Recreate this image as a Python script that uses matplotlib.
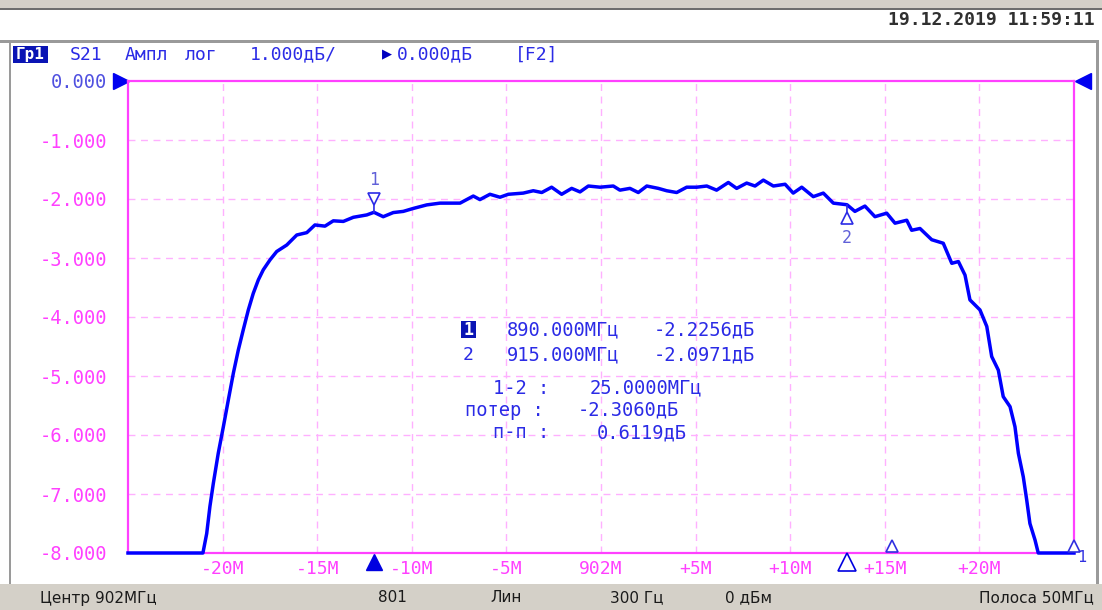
import matplotlib
matplotlib.use("Agg")
import matplotlib.pyplot as plt
import matplotlib.transforms as mtransforms
from matplotlib.patches import Rectangle

# ---------------- data ----------------
center_MHz = 902.0
span_MHz = 50.0
freq_MHz = [877.0, 880.96, 881.16, 881.33, 881.51, 881.77, 882.04, 882.30, 882.57,
            882.83, 883.09, 883.36, 883.62, 883.89, 884.15, 884.51, 884.86, 885.39,
            885.92, 886.45, 886.88, 887.41, 887.85, 888.38, 888.91, 889.62, 890.0,
            890.49, 891.02, 891.55, 892.08, 892.79, 893.49, 894.55, 895.25, 895.60,
            896.13, 896.66, 897.10, 897.89, 898.42, 898.87, 899.39, 899.92, 900.45,
            900.89, 901.33, 901.95, 902.65, 903.00, 903.53, 903.97, 904.42, 905.03,
            905.47, 906.00, 906.53, 907.06, 907.59, 908.11, 908.73, 909.17, 909.70,
            910.14, 910.58, 911.11, 911.73, 912.16, 912.61, 913.22, 913.75, 914.28,
            915.0, 915.42, 915.95, 916.48, 917.10, 917.54, 918.16, 918.42, 918.86,
            919.48, 920.09, 920.54, 920.89, 921.24, 921.50, 922.03, 922.39, 922.65,
            923.00, 923.26, 923.62, 923.88, 924.06, 924.32, 924.50, 924.67, 924.94,
            925.11, 927.0]
s21_dB = [-8.0, -8.0, -7.67, -7.21, -6.82, -6.31, -5.86, -5.41, -4.95,
          -4.56, -4.22, -3.88, -3.60, -3.37, -3.20, -3.03, -2.89, -2.78,
          -2.61, -2.57, -2.44, -2.46, -2.37, -2.38, -2.31, -2.27, -2.2256,
          -2.30, -2.23, -2.21, -2.16, -2.10, -2.07, -2.07, -1.95, -2.01,
          -1.92, -1.97, -1.92, -1.90, -1.86, -1.89, -1.80, -1.92, -1.82,
          -1.88, -1.78, -1.80, -1.78, -1.85, -1.82, -1.89, -1.78, -1.82,
          -1.86, -1.89, -1.80, -1.80, -1.78, -1.85, -1.72, -1.82, -1.73,
          -1.78, -1.68, -1.78, -1.75, -1.90, -1.80, -1.96, -1.90, -2.07,
          -2.0971, -2.21, -2.12, -2.30, -2.24, -2.41, -2.36, -2.53, -2.50,
          -2.69, -2.75, -3.09, -3.06, -3.29, -3.71, -3.88, -4.16, -4.67,
          -4.90, -5.35, -5.52, -5.86, -6.31, -6.71, -7.10, -7.50, -7.78,
          -8.0, -8.0]

marker_freqs = [890.0, 915.0]
marker_vals = [-2.2256, -2.0971]
delta_MHz = 25.0
loss_dB = -2.3060
pp_dB = 0.6119
other_markers_MHz = [917.4, 927.0]

ref_level = 0.0
y_ticks = [0, -1, -2, -3, -4, -5, -6, -7, -8]
y_labels = ["0.000", "-1.000", "-2.000", "-3.000", "-4.000", "-5.000",
            "-6.000", "-7.000", "-8.000"]
x_ticks = [882, 887, 892, 897, 902, 907, 912, 917, 922]
x_labels = ["-20M", "-15M", "-10M", "-5M", "902M", "+5M", "+10M", "+15M", "+20M"]

header_title = "Гр1"
header_words = [("S21", 70), ("Ампл", 125), ("лог", 185), ("1.000дБ/", 250)]
header_ref_words = [("0.000дБ", 397), ("[F2]", 515)]
timestamp = "19.12.2019 11:59:11"
status_items = [("Центр 902МГц", 40, "left"), ("801", 378, "left"), ("Лин", 490, "left"),
                ("300 Гц", 610, "left"), ("0 дБм", 725, "left"), ("Полоса 50МГц", 1094, "right")]

# ---------------- figure ----------------
W, H = 1102, 610
fig = plt.figure(figsize=(W / 100, H / 100), dpi=100)
fig.patch.set_facecolor("white")

BLUE = "#0000FF"
TXTBLUE = "#2B2BE6"
MAG = "#FF40FF"
GRIDC = "#FFB0FF"
GRAY = "#D4D0C8"
MONO = ["DejaVu Sans Mono", "DejaVu Sans"]


def px(x, y):
    return x / W, 1 - y / H


def ftext(x, y, s, **kw):
    fx, fy = px(x, y)
    return fig.text(fx, fy, s, **kw)


def frect(x0, y0, x1, y1, **kw):
    fx0, fy1 = px(x0, y1)
    r = Rectangle((fx0, fy1), (x1 - x0) / W, (y1 - y0) / H, transform=fig.transFigure, **kw)
    fig.add_artist(r)
    return r


# window chrome
frect(0, 0, W, 9, facecolor=GRAY, edgecolor="none")
frect(0, 8, W, 10, facecolor="#6E6E6E", edgecolor="none")
frect(0, 40, 1099, 43, facecolor="#9A9A9A", edgecolor="none")
frect(9, 40, 11, 585, facecolor="#9A9A9A", edgecolor="none")
frect(1096, 40, 1099, 585, facecolor="#9A9A9A", edgecolor="none")
frect(0, 584, W, H, facecolor=GRAY, edgecolor="none")

ftext(1095, 20, timestamp, ha="right", va="center", fontsize=13, family=MONO,
      fontweight="bold", color="#303030")

# header
frect(13, 46, 48, 63, facecolor="#0A14B4", edgecolor="none")
ftext(30.5, 54.5, header_title, ha="center", va="center", fontsize=11.5, family=MONO,
      color="white", fontweight="bold")
hk = dict(ha="left", va="center", fontsize=13, family=MONO, color=TXTBLUE)
for w, x in header_words + header_ref_words:
    ftext(x, 54.5, w, **hk)
ftext(382, 54.5, "\u25B6", ha="left", va="center", fontsize=12, family=MONO, color="#0000C0")

# status bar
for s, x, ha in status_items:
    ftext(x, 598, s, ha=ha, va="center", fontsize=11, color="#1A1A1A")

# ---------------- plot axes ----------------
ax = fig.add_axes([128 / W, 1 - 553 / H, 946 / W, 472 / H])
ax.set_xlim(center_MHz - span_MHz / 2, center_MHz + span_MHz / 2)
ax.set_ylim(-8, 0)
ax.set_facecolor("white")
for sp in ax.spines.values():
    sp.set_color(MAG)
    sp.set_linewidth(1.6)

ax.set_xticks(x_ticks)
ax.set_xticklabels(x_labels)
ax.set_yticks(y_ticks)
ax.set_yticklabels(y_labels)
ax.tick_params(length=0)
ax.tick_params(axis="x", pad=5, labelsize=13, labelcolor=MAG)
ax.tick_params(axis="y", pad=15, labelsize=13.5, labelcolor=MAG)
for lab in ax.get_xticklabels() + ax.get_yticklabels():
    lab.set_family(MONO)
ax.get_yticklabels()[0].set_color("#5050E0")

for xv in x_ticks:
    ax.axvline(xv, color=GRIDC, lw=1.0, ls=(0, (5, 4)), zorder=1)
for yv in y_ticks[1:-1]:
    ax.axhline(yv, color=GRIDC, lw=1.0, ls=(0, (5, 4)), zorder=1)

ax.plot(freq_MHz, s21_dB, color=BLUE, lw=2.5, zorder=3, clip_on=False)

# reference level triangles
xl, xr = ax.get_xlim()
t_left = mtransforms.offset_copy(ax.transData, fig=fig, x=-7, y=0, units="dots")
t_right = mtransforms.offset_copy(ax.transData, fig=fig, x=9, y=0, units="dots")
ax.plot([xl], [ref_level], marker=">", ms=11, color="#0000F0", transform=t_left, clip_on=False)
ax.plot([xr], [ref_level], marker="<", ms=11, color="#0000F0", transform=t_right, clip_on=False)

# markers on trace
mk_style = dict(marker="v", ms=9, mfc="white", mec=TXTBLUE, mew=1.2, clip_on=False, zorder=5)
f1, v1 = marker_freqs[0], marker_vals[0]
f2, v2 = marker_freqs[1], marker_vals[1]
ax.plot([f1], [v1], transform=mtransforms.offset_copy(ax.transData, fig=fig, x=0, y=13, units="dots"), **mk_style)
ax.annotate("", xy=(f1, v1), xytext=(0, 10), textcoords="offset pixels",
            arrowprops=dict(arrowstyle="-", color=TXTBLUE, lw=1.2, shrinkA=0, shrinkB=0))
ax.annotate("1", xy=(f1, v1), xytext=(0, 32), textcoords="offset pixels", ha="center", va="center",
            fontsize=12, family=MONO, color="#6060D8")
mk2 = dict(mk_style)
mk2["marker"] = "^"
ax.plot([f2], [v2], transform=mtransforms.offset_copy(ax.transData, fig=fig, x=0, y=-13, units="dots"), **mk2)
ax.annotate("", xy=(f2, v2), xytext=(0, -10), textcoords="offset pixels",
            arrowprops=dict(arrowstyle="-", color=TXTBLUE, lw=1.2, shrinkA=0, shrinkB=0))
ax.annotate("2", xy=(f2, v2), xytext=(0, -33), textcoords="offset pixels", ha="center", va="center",
            fontsize=12, family=MONO, color="#6060D8")

# markers on frequency axis
below = mtransforms.offset_copy(ax.transData, fig=fig, x=0, y=-9, units="dots")
ax.plot([f1], [-8], marker="^", ms=12, color="#0000E0", transform=below, clip_on=False, zorder=6)
ax.plot([f2], [-8], marker="^", ms=13, mfc="white", mec="#0000E0", mew=1.2,
        transform=below, clip_on=False, zorder=6)
above = mtransforms.offset_copy(ax.transData, fig=fig, x=0, y=7, units="dots")
for fo in other_markers_MHz:
    ax.plot([fo], [-8], marker="^", ms=8, mfc="white", mec="#3030E0", mew=1.2,
            transform=above, clip_on=False, zorder=6)
ax.annotate("1", xy=(other_markers_MHz[-1], -8), xytext=(8, -5), textcoords="offset pixels",
            ha="center", va="center", fontsize=11, family=MONO, color="#3030E0",
            annotation_clip=False)

# marker table
ROWS = [330, 355, 388, 410, 433]
frect(461, ROWS[0] - 9, 476, ROWS[0] + 8, facecolor="#0A14B4", edgecolor="none")
ftext(468.5, ROWS[0], "1", ha="center", va="center", fontsize=12, family=MONO, color="white",
      fontweight="bold")
ftext(468.5, ROWS[1], "2", ha="center", va="center", fontsize=13, family=MONO, color=TXTBLUE)
tk = dict(ha="left", va="center", fontsize=13.5, family=MONO, color=TXTBLUE)
for row, fm, vm in zip(ROWS[:2], marker_freqs, marker_vals):
    ftext(507, row, f"{fm:.3f}МГц", **tk)
    ftext(654, row, f"{vm:.4f}дБ", **tk)
ftext(493, ROWS[2], "1-2 :", **tk)
ftext(590, ROWS[2], f"{delta_MHz:.4f}МГц", **tk)
ftext(465, ROWS[3], "потер :", **tk)
ftext(578, ROWS[3], f"{loss_dB:.4f}дБ", **tk)
ftext(493, ROWS[4], "п-п :", **tk)
ftext(597, ROWS[4], f"{pp_dB:.4f}дБ", **tk)

fig.savefig("out.png", dpi=100, facecolor="white")
